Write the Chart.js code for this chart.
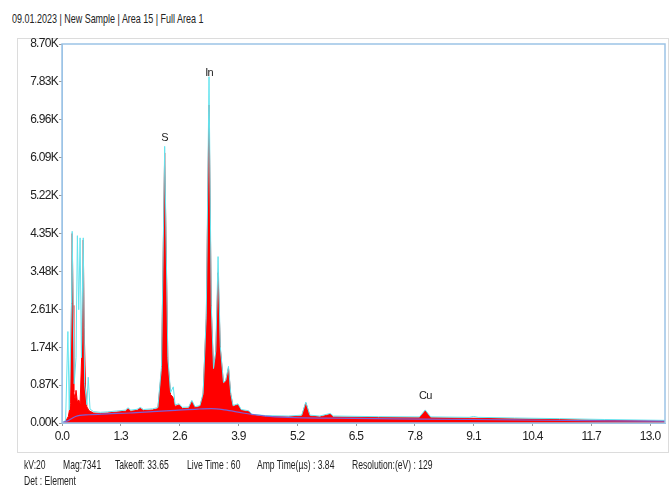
<!DOCTYPE html>
<html>
<head>
<meta charset="utf-8">
<script src="https://cdn.jsdelivr.net/npm/chart.js@4"></script>
<style>
  html, body { margin: 0; padding: 0; background: #fff; }
  body { width: 672px; height: 490px; position: relative; overflow: hidden;
         font-family: 'Liberation Sans', Arial, sans-serif; color: #222; }
  #title { position: absolute; left: 12px; top: 11px; font-size: 13px; white-space: nowrap;
           transform: scaleX(0.69); transform-origin: left top; }
  #frame { position: absolute; left: 17px; top: 38px; width: 650px; height: 413px; border: 1px solid #dcdcdc; }
  #wrap { position: absolute; left: 0; top: 0; width: 672px; height: 490px; }
  .foot { position: absolute; font-size: 13px; white-space: nowrap; transform: scaleX(0.66); transform-origin: left top; }
</style>
</head>
<body>
<div id="title">09.01.2023 | New Sample | Area 15 | Full Area 1</div>
<div id="frame"></div>
<div id="wrap"><canvas id="c" width="672" height="490"></canvas></div>
<div class="foot" style="left:24px;top:457px">kV:20</div>
<div class="foot" style="left:63px;top:457px">Mag:7341</div>
<div class="foot" style="left:115px;top:457px">Takeoff: 33.65</div>
<div class="foot" style="left:187px;top:457px">Live Time : 60</div>
<div class="foot" style="left:257px;top:457px">Amp Time(µs) : 3.84</div>
<div class="foot" style="left:352px;top:457px">Resolution:(eV) : 129</div>
<div class="foot" style="left:24px;top:473px">Det : Element</div>
<script>
// ---- data (energy in keV, counts) ----
const redEnergy = [0.00,0.08,0.14,0.19,0.21,0.225,0.245,0.26,0.29,0.31,0.34,0.37,0.40,0.45,0.47,0.49,0.52,0.55,0.60,0.70,0.85,1.00,1.20,1.40,1.46,1.52,1.66,1.73,1.80,2.00,2.12,2.20,2.27,2.34,2.40,2.45,2.50,2.59,2.66,2.80,2.87,2.94,3.05,3.12,3.19,3.25,3.30,3.35,3.40,3.45,3.50,3.57,3.62,3.68,3.73,3.78,3.89,3.96,4.13,4.20,4.50,5.00,5.30,5.39,5.48,5.70,5.93,6.00,7.00,7.90,8.03,8.15,9.00,10.0,11.0,12.0,13.0,13.33];
const redCounts = [0,40,150,450,2700,4350,2700,700,550,750,480,530,450,2000,4200,2200,800,370,280,230,220,230,250,270,330,270,290,340,285,300,330,1200,6200,1400,650,600,380,420,330,340,500,350,380,650,2400,7300,2600,1200,1600,3450,1700,900,950,1260,650,380,420,290,260,180,150,140,160,460,160,140,200,140,125,120,280,120,110,95,80,60,45,40];

const cyanEnergy = [0.00,0.08,0.13,0.16,0.21,0.225,0.245,0.27,0.31,0.34,0.37,0.40,0.43,0.47,0.50,0.55,0.58,0.62,0.70,0.85,1.00,1.20,1.40,1.46,1.52,1.66,1.73,1.80,2.00,2.12,2.20,2.27,2.34,2.40,2.46,2.50,2.59,2.66,2.80,2.87,2.94,3.05,3.12,3.19,3.25,3.30,3.35,3.40,3.45,3.50,3.57,3.62,3.68,3.73,3.78,3.89,3.96,4.13,4.20,4.50,5.00,5.30,5.39,5.48,5.70,5.93,6.00,7.00,7.90,8.03,8.15,9.00,9.10,9.20,10.0,11.0,12.0,13.0,13.33];
const cyanCounts = [0,60,2100,300,2750,4400,2750,900,1500,4300,2600,4250,1500,4250,900,420,1050,320,260,245,255,275,295,350,295,315,360,310,325,355,1300,6350,1500,700,830,420,440,360,365,520,375,400,680,2500,7950,2700,1250,1650,3820,1750,930,980,1300,680,400,440,310,280,200,170,160,180,480,180,160,220,160,145,140,300,140,130,150,130,115,100,80,65,60];

const bgEnergy = [0.00,0.15,0.30,0.60,1.00,1.50,2.00,2.50,3.00,3.30,3.60,4.00,4.50,5.00,6.00,8.00,10.0,12.0,13.33];
const bgCounts = [0,60,150,190,210,230,260,290,320,330,300,230,160,130,110,90,70,50,40];

const xTicks = [0.0,1.3,2.6,3.9,5.2,6.5,7.8,9.1,10.4,11.7,13.0];
const yTicks = [0,870,1740,2610,3480,4350,5220,6090,6960,7830,8700];

const peakNames = ['S','In','Cu'];
const peakEnergy = [2.27,3.25,8.03];
const peakLabelCounts = [6350,7850,420];

const FONT = "'Liberation Sans', Arial, sans-serif";
const toXY = (xs, ys) => xs.map((x, i) => ({x: x, y: ys[i]}));

const boxPlugin = {
  id: 'box',
  beforeDraw(chart) {
    // slightly condensed axis text, like the narrow instrument font
    try { chart.ctx.letterSpacing = '-0.7px'; } catch (e) {}
  },
  afterDatasetsDraw(chart) {
    const {ctx, chartArea: a, scales} = chart;
    ctx.save();
    ctx.strokeStyle = '#9cc3e6';
    ctx.lineWidth = 1.5;
    ctx.strokeRect(a.left, a.top, a.right - a.left, a.bottom - a.top);
    ctx.fillStyle = '#222';
    ctx.font = '11px ' + FONT;
    ctx.textAlign = 'center';
    ctx.textBaseline = 'bottom';
    peakNames.forEach((n, i) => {
      const px = scales.x.getPixelForValue(peakEnergy[i]);
      const py = scales.y.getPixelForValue(peakLabelCounts[i]);
      ctx.fillText(n, px, py - 3);
    });
    ctx.restore();
  }
};

new Chart(document.getElementById('c'), {
  type: 'line',
  data: {
    datasets: [
      { label: 'Background', data: toXY(bgEnergy, bgCounts), borderColor: '#7c5fd4', borderWidth: 1.2,
        pointRadius: 0, fill: false, cubicInterpolationMode: 'monotone' },
      { label: 'Spectrum outline', data: toXY(cyanEnergy, cyanCounts), borderColor: '#63e3ee', borderWidth: 1,
        pointRadius: 0, fill: false, tension: 0 },
      { label: 'Spectrum', data: toXY(redEnergy, redCounts), borderColor: '#ff0000', borderWidth: 1,
        backgroundColor: '#ff0000', pointRadius: 0, fill: 'origin', tension: 0 }
    ]
  },
  options: {
    responsive: false,
    animation: false,
    layout: { padding: { left: 0, top: 44, right: 7, bottom: 45 } },
    plugins: { legend: { display: false }, tooltip: { enabled: false } },
    scales: {
      x: {
        type: 'linear', min: 0, max: 13.33,
        afterBuildTicks: s => { s.ticks = xTicks.map(v => ({value: v})); },
        afterFit: s => { s.height = 22; },
        grid: { display: true, drawOnChartArea: false, drawTicks: true, tickLength: 3, color: '#9a9a9a' },
        border: { display: true, color: '#9cc3e6', width: 1 },
        ticks: { color: '#222', font: { family: FONT, size: 12 }, padding: 3, maxRotation: 0,
                 callback: v => v.toFixed(1) }
      },
      y: {
        type: 'linear', min: 0, max: 8700,
        afterBuildTicks: s => { s.ticks = yTicks.map(v => ({value: v})); },
        afterFit: s => { s.width = 62; },
        grid: { display: true, drawOnChartArea: false, drawTicks: true, tickLength: 3, color: '#9a9a9a' },
        border: { display: true, color: '#9cc3e6', width: 1 },
        ticks: { color: '#222', font: { family: FONT, size: 12 }, padding: 1,
                 callback: v => (v / 1000).toFixed(2) + 'K' }
      }
    }
  },
  plugins: [boxPlugin]
});
</script>
</body>
</html>
